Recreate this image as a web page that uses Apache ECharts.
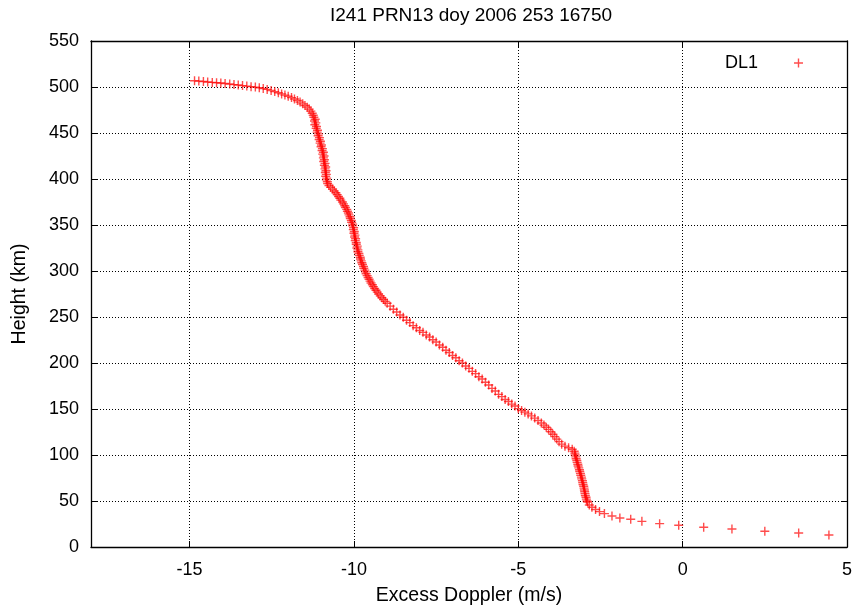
<!DOCTYPE html>
<html>
<head>
<meta charset="utf-8">
<script src="https://cdn.jsdelivr.net/npm/echarts@6/dist/echarts.min.js"></script>
<style>html,body{margin:0;padding:0;background:#fff;}#c{width:855px;height:612px;}</style>
</head>
<body>
<div id="c"></div>
<script>
const titleText = 'I241 PRN13 doy 2006 253 16750';
const seriesName = 'DL1';
const xTicks = [-15, -10, -5, 0, 5];

// Excess Doppler (m/s)
const doppler = [
-14.85,-14.72,-14.58,-14.45,-14.31,-14.18,-14.05,-13.92,-13.78,-13.65,-13.52,-13.39,-13.26,-13.13,-13.00,-12.88,-12.76,-12.64,-12.52,-12.41,-12.30,-12.20,-12.10,-12.00,-11.90,-11.81,-11.72,-11.64,-11.56,-11.49,-11.42,-11.36,-11.31,-11.27,-11.24,-11.22,
-11.18,-11.20,-11.16,-11.19,-11.14,-11.15,-11.11,-11.12,-11.08,-11.09,-11.05,-11.06,-11.02,-11.03,-10.99,-11.00,-10.96,-10.97,-10.93,-10.95,-10.91,-10.93,-10.90,-10.92,-10.88,-10.90,-10.86,-10.88,-10.85,-10.87,-10.84,-10.86,-10.83,-10.84,-10.81,-10.80,
-10.76,-10.71,-10.65,-10.60,-10.55,-10.51,-10.47,-10.43,-10.40,-10.35,-10.32,-10.28,-10.26,-10.22,-10.20,-10.17,-10.15,-10.12,-10.11,-10.08,-10.07,-10.04,-10.04,-10.01,-10.02,-9.99,-10.00,-9.97,-9.98,-9.95,-9.96,-9.93,
-9.93,-9.90,-9.91,-9.88,-9.88,-9.85,-9.84,-9.81,-9.80,-9.78,-9.76,-9.74,-9.71,-9.70,-9.67,-9.65,-9.63,-9.60,-9.57,-9.54,-9.51,-9.48,-9.44,-9.41,-9.37,-9.33,-9.29,-9.25,-9.20,-9.15,-9.10,-9.05,-8.99,
-8.90,-8.80,-8.70,-8.60,-8.50,-8.40,-8.30,-8.20,-8.10,-8.00,-7.90,-7.80,-7.70,-7.60,-7.50,-7.40,-7.30,-7.20,-7.10,-7.00,-6.90,-6.80,-6.70,-6.60,-6.50,-6.40,-6.30,-6.20,-6.10,-6.00,-5.90,-5.80,-5.70,-5.60,-5.50,-5.40,-5.30,-5.20,-5.10,-5.00,
-4.90,-4.80,-4.70,-4.60,-4.50,-4.40,-4.30,-4.22,-4.15,-4.08,-4.01,-3.95,-3.89,-3.83,-3.76,-3.68,-3.58,-3.47,-3.36,
-3.30,-3.28,-3.27,-3.25,-3.24,-3.22,-3.21,-3.19,-3.18,-3.16,-3.14,-3.13,-3.11,-3.10,-3.08,-3.07,-3.05,-3.04,-3.03,-3.01,-3.00,-2.99,-2.98,-2.97,-2.96,-2.94,-2.93,-2.91,
-2.89,-2.84,-2.76,-2.65,-2.53,-2.38,-2.15,-1.91,-1.58,-1.24,-0.70,-0.12,0.64,1.50,2.50,3.53,4.45
];

// Height (km)
const height = [
506.8,506.4,506.0,505.5,505.0,504.7,504.3,503.8,503.2,502.6,502.1,501.5,501.0,500.4,499.9,499.2,498.4,497.4,496.2,495.0,493.7,492.5,491.2,489.9,488.5,487.0,485.4,483.6,481.7,479.9,478.1,476.0,473.8,471.5,469.3,467.2,
465,463,461,459,457,455,453,451,449,447,445,443,441,439,437,435,433,431,429,427,425,423,421,419,417,415,413,411,409,407,405,403,401,399,397,395,
393,391,389,387,385,383,381,379,377,375,373,371,369,367,365,363,361,359,357,355,353,351,349,347,345,343,341,339,337,335,333,331,
329,327,325,323,321,319,317,315,313,311,309,307,305,303,301,299,297,295,293,291,289,287,285,283,281,279,277,275,273,271,269,267,265,
261.8,258.4,255.5,252.1,249.7,246.4,243.9,240.6,238.3,235.4,233.3,230.4,228.2,225.2,222.8,219.5,217.1,213.8,211.4,208.1,205.7,202.4,200.0,196.7,194.2,190.9,188.5,185.1,182.6,179.0,176.1,172.4,169.5,165.9,163.5,160.4,158.2,155.3,153.2,150.4,
148.4,146.6,144.7,142.5,140.1,137.5,134.8,132.5,130.2,127.9,125.3,122.6,120.0,117.3,114.5,111.8,109.6,107.8,106.3,
104,102,100,98,96,94,92,90,88,86,84,82,80,78,76,74,72,70,68,66,64,62,60,58,56,54,52,50,
48.9,45.7,43.2,40.7,38.5,36.3,33.7,31.5,30.1,27.9,25.4,23.6,21.4,19.6,17.1,15.2,13.0
];

const points = doppler.map((d, i) => [d, height[i]]);
const cross = 'path://M3.8,0h1.4v3.8h3.8v1.4h-3.8v3.8h-1.4v-3.8h-3.8v-1.4h3.8z';
const FONT = 'Liberation Sans, Arial, sans-serif';

const chart = echarts.init(document.getElementById('c'), null, {renderer: 'canvas'});
const dotted = {color: '#000', type: [1, 2], width: 1};
const frameLine = {show: true, onZero: false, lineStyle: {color: '#000', width: 1.3}};
const inTick = {show: true, inside: true, length: 6, lineStyle: {color: '#000', width: 1}};
chart.setOption({
  animation: false,
  backgroundColor: '#fff',
  title: {
    text: titleText, left: 471, top: 6, padding: 0, textAlign: 'center',
    textStyle: {fontFamily: FONT, fontSize: 19, fontWeight: 'normal', color: '#000'}
  },
  legend: {
    data: [{name: seriesName, icon: cross}],
    right: 47, top: 49, align: 'right', itemWidth: 9, itemHeight: 9,
    textStyle: {fontFamily: FONT, fontSize: 18, color: '#000', padding: [0, 31, 0, 0]}
  },
  grid: {left: 91, right: 5, top: 41, bottom: 65, containLabel: false},
  xAxis: [{
    type: 'value', min: -18, max: 5, position: 'bottom',
    name: 'Excess Doppler (m/s)', nameLocation: 'middle', nameGap: 39,
    nameTextStyle: {fontFamily: FONT, fontSize: 19.5, color: '#000'},
    axisLine: frameLine,
    axisTick: Object.assign({customValues: xTicks}, inTick),
    axisLabel: {customValues: xTicks, fontFamily: FONT, fontSize: 18, color: '#000', margin: 14},
    splitLine: {show: true, lineStyle: dotted}
  }, {
    type: 'value', min: -18, max: 5, position: 'top',
    axisLine: frameLine,
    axisTick: Object.assign({customValues: xTicks}, inTick),
    axisLabel: {show: false},
    splitLine: {show: false}
  }],
  yAxis: [{
    type: 'value', min: 0, max: 550, interval: 50, position: 'left',
    name: 'Height (km)', nameLocation: 'middle', nameGap: 61,
    nameTextStyle: {fontFamily: FONT, fontSize: 19.5, color: '#000'},
    axisLine: frameLine,
    axisTick: inTick,
    axisLabel: {fontFamily: FONT, fontSize: 18, color: '#000', margin: 12},
    splitLine: {show: true, lineStyle: dotted}
  }, {
    type: 'value', min: 0, max: 550, interval: 50, position: 'right',
    axisLine: frameLine,
    axisTick: inTick,
    axisLabel: {show: false},
    splitLine: {show: false}
  }],
  series: [{
    name: seriesName, type: 'scatter', xAxisIndex: 0, yAxisIndex: 0,
    symbol: cross, symbolSize: 9,
    itemStyle: {color: 'rgba(255,0,0,0.88)'},
    data: points
  }]
});
</script>
</body>
</html>
